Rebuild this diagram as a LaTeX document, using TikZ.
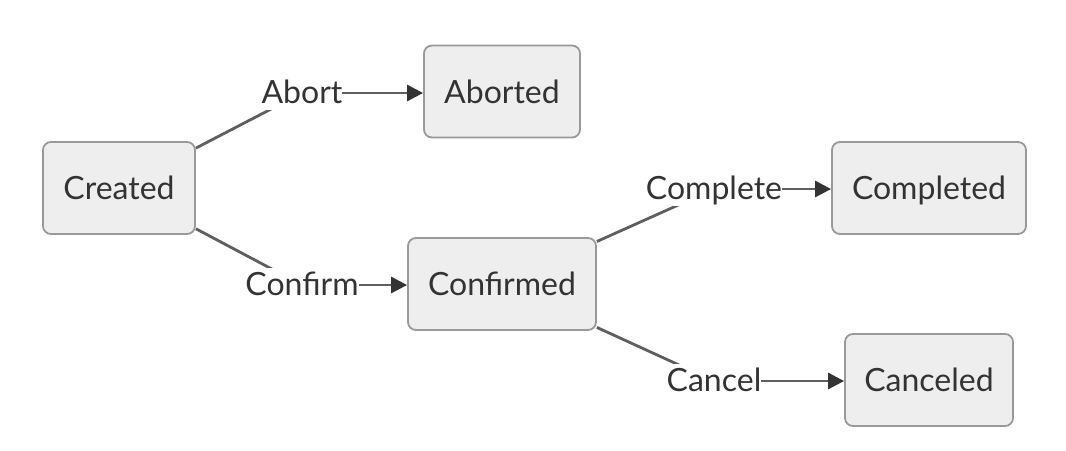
\documentclass[tikz,border=0pt]{standalone}
\usepackage{fontspec}
\setmainfont{Lato}
\usetikzlibrary{arrows.meta,backgrounds}
\definecolor{boxfill}{HTML}{EEEEEE}
\definecolor{boxline}{HTML}{999999}
\definecolor{txt}{HTML}{333333}
\definecolor{edge}{HTML}{5F5F5F}
\begin{document}
\begin{tikzpicture}[x=1pt,y=-1pt,
  state/.style={draw=boxline,fill=boxfill,line width=1.8pt,rounded corners=8pt,
    minimum height=92pt,inner sep=0pt,text=txt,text height=23pt,text depth=0pt,
    font=\fontsize{32}{36}\selectfont},
  elabel/.style={fill=white,inner xsep=0pt,inner ysep=0pt,minimum height=34pt,text=txt,
    text height=23pt,text depth=2pt,font=\fontsize{32}{36}\selectfont},
  link/.style={draw=edge,line width=2.8pt},
  arr/.style={draw=edge,line width=2.8pt,-{Triangle[length=16pt,width=16pt,color=txt]}}]
\useasboundingbox (0,0) rectangle (1066,450);
\node[state,minimum width=152pt] (created) at (119,188) {Created};
\node[state,minimum width=156pt] (aborted) at (502,91.5) {Aborted};
\node[state,minimum width=188pt] (confirmed) at (502,284) {Confirmed};
\node[state,minimum width=194pt] (completed) at (929,188) {Completed};
\node[state,minimum width=168pt] (canceled) at (929,380) {Canceled};
\node[elabel] (labort) at (302,93) {Abort};
\node[elabel] (lconfirm) at (302,285) {Confirm};
\node[elabel] (lcomplete) at (714,189) {Complete};
\node[elabel] (lcancel) at (714,381) {Cancel};
\begin{scope}[on background layer]
\draw[link] (created) -- (labort.center);
\draw[arr] (labort.center) -- (labort.center -| aborted.west);
\draw[link] (created) -- (lconfirm.center);
\draw[arr] (lconfirm.center) -- (lconfirm.center -| confirmed.west);
\draw[link] (confirmed) -- (lcomplete.center);
\draw[arr] (lcomplete.center) -- (lcomplete.center -| completed.west);
\draw[link] (confirmed) -- (lcancel.center);
\draw[arr] (lcancel.center) -- (lcancel.center -| canceled.west);
\end{scope}
\end{tikzpicture}
\end{document}
